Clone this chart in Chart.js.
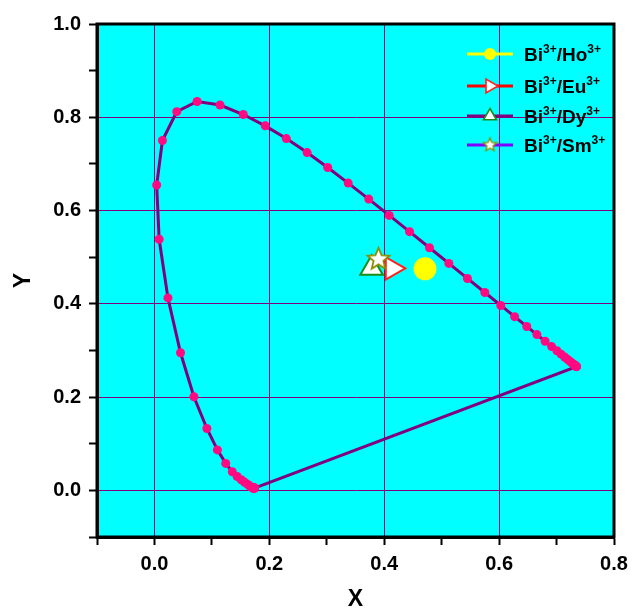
<!DOCTYPE html>
<html><head><meta charset="utf-8">
<script src="https://cdn.jsdelivr.net/npm/chart.js@4"></script>
<style>html,body{margin:0;padding:0;background:#fff}</style>
</head><body><canvas id="c" width="635" height="610"></canvas>
<script>
// CIE 1931 spectral locus, 380–700 nm in 5 nm steps
const wavelengths = [380,385,390,395,400,405,410,415,420,425,430,435,440,445,450,455,460,465,470,475,480,485,490,495,500,505,510,515,520,525,530,535,540,545,550,555,560,565,570,575,580,585,590,595,600,605,610,615,620,625,630,635,640,645,650,655,660,665,670,675,680,685,690,695,700];
const locusX = [0.1741,0.1740,0.1738,0.1736,0.1733,0.1730,0.1726,0.1721,0.1714,0.1703,0.1689,0.1669,0.1644,0.1611,0.1566,0.1510,0.1440,0.1355,0.1241,0.1096,0.0913,0.0687,0.0454,0.0235,0.0082,0.0039,0.0139,0.0389,0.0743,0.1142,0.1547,0.1929,0.2296,0.2658,0.3016,0.3373,0.3731,0.4087,0.4441,0.4788,0.5125,0.5448,0.5752,0.6029,0.6270,0.6482,0.6658,0.6801,0.6915,0.7006,0.7079,0.7140,0.7190,0.7230,0.7260,0.7283,0.7300,0.7311,0.7320,0.7327,0.7334,0.7340,0.7344,0.7346,0.7347];
const locusY = [0.0050,0.0050,0.0049,0.0049,0.0048,0.0048,0.0048,0.0048,0.0051,0.0058,0.0069,0.0086,0.0109,0.0138,0.0177,0.0227,0.0297,0.0399,0.0578,0.0868,0.1327,0.2007,0.2950,0.4127,0.5384,0.6548,0.7502,0.8120,0.8338,0.8262,0.8059,0.7816,0.7543,0.7243,0.6923,0.6589,0.6245,0.5896,0.5547,0.5202,0.4866,0.4544,0.4242,0.3965,0.3725,0.3514,0.3340,0.3197,0.3083,0.2993,0.2920,0.2859,0.2809,0.2770,0.2740,0.2717,0.2700,0.2689,0.2680,0.2673,0.2666,0.2660,0.2656,0.2654,0.2653];

// Samples
const sampleNames = ['Bi³⁺/Ho³⁺','Bi³⁺/Eu³⁺','Bi³⁺/Dy³⁺','Bi³⁺/Sm³⁺'];
const sampleX = [0.471, 0.414, 0.378, 0.390];
const sampleY = [0.475, 0.476, 0.476, 0.4955];

// Axis tick labels
const xTickLabels = ['0.0','0.2','0.4','0.6','0.8'];
const yTickLabels = ['0.0','0.2','0.4','0.6','0.8','1.0'];

const FONT = "'Liberation Sans', Arial, sans-serif";

function makeStar(R, ratio, fill, stroke, lw) {
  const size = Math.ceil(2 * R + lw * 2 + 2);
  const c = document.createElement('canvas'); c.width = size; c.height = size;
  const g = c.getContext('2d'); const cx = size / 2, cy = size / 2;
  g.beginPath();
  for (let i = 0; i < 10; i++) {
    const r = i % 2 ? R * ratio : R;
    const a = -Math.PI / 2 + i * Math.PI / 5;
    g.lineTo(cx + r * Math.cos(a), cy + r * Math.sin(a));
  }
  g.closePath(); g.fillStyle = fill; g.fill();
  g.lineWidth = lw; g.strokeStyle = stroke; g.lineJoin = 'miter'; g.stroke();
  return c;
}
const bigStar = makeStar(11.5, 0.45, '#ffffff', '#8c8c00', 1.8);
const smallStar = makeStar(7, 0.45, '#ffffff', '#8c8c00', 1.3);

const locusPts = locusX.map((x, i) => ({x, y: locusY[i]}));
locusPts.push({x: locusX[0], y: locusY[0]});

const styles = [
  {line:'#ffff00', marker:'circle', fill:'#ffff00', stroke:'#ffff00', r:10.5, rot:0, lr:6},
  {line:'#ff0000', marker:'triangle', fill:'#ffffff', stroke:'#ff2020', r:13, rot:90, lr:8},
  {line:'#800080', marker:'triangle', fill:'#ffffff', stroke:'#1a8c1a', r:13, rot:0, lr:7.5},
  {line:'#8000ff', marker:bigStar, fill:'#ffffff', stroke:'#8c8c00', r:12, rot:0, lr:7}
];

const sampleSets = sampleNames.map((n, i) => ({
  label: n,
  data: [{x: sampleX[i], y: sampleY[i]}],
  showLine: false,
  pointStyle: styles[i].marker,
  pointRadius: styles[i].r,
  pointRotation: styles[i].rot,
  pointBackgroundColor: styles[i].fill,
  pointBorderColor: styles[i].stroke,
  pointBorderWidth: 2,
  order: 4 - i
}));

const bgPlugin = {
  id: 'bg',
  beforeDraw(chart) {
    const {ctx, chartArea: a} = chart;
    ctx.save(); ctx.fillStyle = '#00ffff';
    ctx.fillRect(a.left, a.top, a.right - a.left, a.bottom - a.top);
    ctx.restore();
  },
  afterDraw(chart) {
    const {ctx, chartArea: a} = chart;
    ctx.save(); ctx.strokeStyle = '#000'; ctx.lineWidth = 3;
    ctx.strokeRect(a.left, a.top, a.right - a.left, a.bottom - a.top);
    ctx.restore();
  }
};

function drawRich(ctx, text, x, y) {
  // y = vertical middle of main text
  let cx = x;
  for (const ch of text) {
    let sup = false, t = ch;
    if (ch === '³') { sup = true; t = '3'; }
    if (ch === '⁺') { sup = true; t = '+'; }
    ctx.font = sup ? `bold 12px ${FONT}` : `bold 19px ${FONT}`;
    ctx.textBaseline = 'alphabetic';
    const by = sup ? y - 1 : y + 7;
    ctx.fillText(t, cx, by);
    cx += ctx.measureText(t).width;
  }
}

function drawMarker(ctx, st, x, y) {
  ctx.save();
  if (st.marker === 'circle') {
    ctx.beginPath(); ctx.arc(x, y, st.lr, 0, Math.PI * 2);
    ctx.fillStyle = st.fill; ctx.fill();
  } else if (st.marker === 'triangle') {
    const r = st.lr; let rad = st.rot * Math.PI / 180;
    ctx.beginPath();
    for (let k = 0; k < 3; k++) {
      ctx.lineTo(x + Math.sin(rad) * r, y - Math.cos(rad) * r);
      rad += 2 * Math.PI / 3;
    }
    ctx.closePath(); ctx.fillStyle = st.fill; ctx.fill();
    ctx.lineWidth = 1.6; ctx.strokeStyle = st.stroke; ctx.stroke();
  } else {
    ctx.drawImage(smallStar, x - smallStar.width / 2, y - smallStar.height / 2);
  }
  ctx.restore();
}

const legendPlugin = {
  id: 'innerLegend',
  afterDraw(chart) {
    const {ctx, chartArea: a} = chart;
    const ys = [54, 86, 116, 145];
    const x0 = a.right - 147, x1 = a.right - 101, tx = a.right - 90;
    ctx.save();
    sampleNames.forEach((n, i) => {
      const st = styles[i];
      const y = ys[i];
      ctx.beginPath(); ctx.moveTo(x0, y); ctx.lineTo(x1, y);
      ctx.strokeStyle = st.line; ctx.lineWidth = 3; ctx.stroke();
      drawMarker(ctx, st, (x0 + x1) / 2, y);
      ctx.fillStyle = '#000';
      drawRich(ctx, n, tx, y);
    });
    ctx.restore();
  }
};

const isMajor = v => { const r = Math.round(v * 10); return r >= 0 && r % 2 === 0; };
const tickFont = {family: FONT, size: 20, weight: 'bold'};
const titleFont = {family: FONT, size: 23, weight: 'bold'};

new Chart(document.getElementById('c'), {
  type: 'scatter',
  data: {
    datasets: [
      {
        label: 'CIE locus',
        data: locusPts,
        showLine: true,
        borderColor: '#800080',
        borderWidth: 3,
        pointRadius: 4.5,
        pointBackgroundColor: '#ff0a80',
        pointBorderWidth: 0,
        order: 10
      },
      ...sampleSets
    ]
  },
  options: {
    responsive: false,
    animation: false,
    devicePixelRatio: 1,
    layout: {padding: {top: 24, right: 21, left: 0, bottom: 0}},
    plugins: {legend: {display: false}, tooltip: {enabled: false}},
    scales: {
      x: {
        type: 'linear', min: -0.1, max: 0.8,
        ticks: {stepSize: 0.1, autoSkip: false, maxRotation: 0, color: '#000', font: tickFont, padding: 7,
          callback: v => isMajor(v) ? xTickLabels[Math.round(v * 10) / 2] : ''},
        grid: {color: c => isMajor(c.tick.value) ? '#800080' : 'rgba(0,0,0,0)', lineWidth: 1,
          tickColor: '#000', tickWidth: 2, tickLength: 8},
        border: {color: '#000', width: 3},
        title: {display: true, text: 'X', color: '#000', font: titleFont, padding: {top: -3, bottom: -3}},
        afterFit: s => { s.height = 73; }
      },
      y: {
        type: 'linear', min: -0.1, max: 1.0,
        ticks: {stepSize: 0.1, autoSkip: false, color: '#000', font: tickFont, padding: 8,
          callback: v => isMajor(v) ? yTickLabels[Math.round(v * 10) / 2] : ''},
        grid: {color: c => isMajor(c.tick.value) ? '#800080' : 'rgba(0,0,0,0)', lineWidth: 1,
          tickColor: '#000', tickWidth: 2, tickLength: 8},
        border: {color: '#000', width: 3},
        title: {display: true, text: 'Y', color: '#000', font: titleFont, padding: {top: 10, bottom: 10}},
        afterFit: s => { s.width = 97; }
      }
    }
  },
  plugins: [bgPlugin, legendPlugin]
});
</script>
</body></html>
